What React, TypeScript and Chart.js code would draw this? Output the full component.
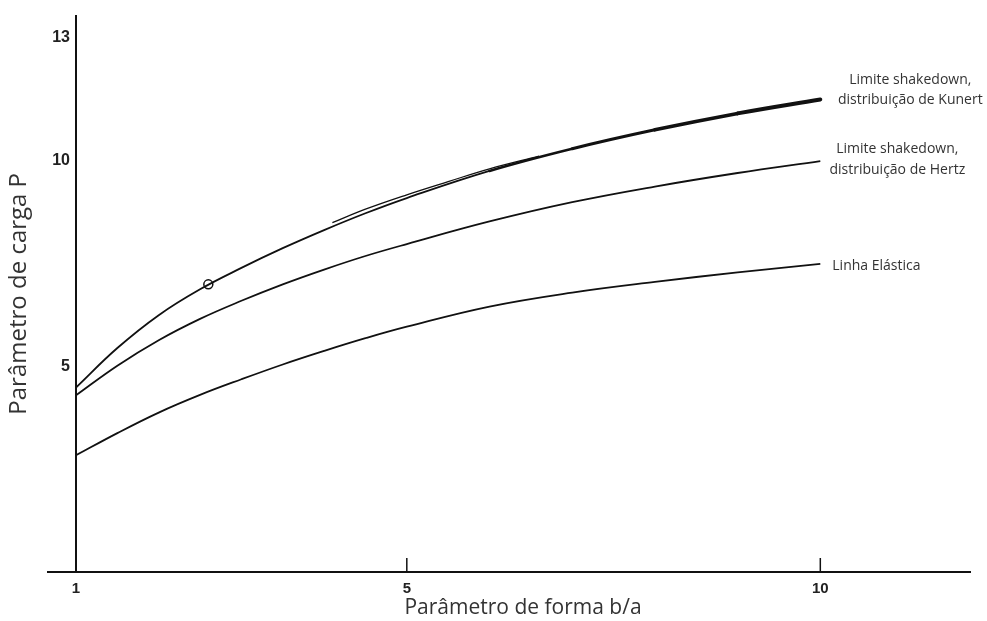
import React, { useEffect, useRef } from "react";
import { Chart, registerables } from "chart.js";

Chart.register(...registerables);

// ---- data ----
const xValues = [1, 1.5, 2, 2.5, 3, 3.5, 4, 4.5, 5, 6, 7, 8, 9, 10];
const kunert = [4.49, 5.45, 6.25, 6.88, 7.4, 7.88, 8.32, 8.73, 9.1, 9.76, 10.3, 10.76, 11.16, 11.5];
const hertz = [4.3, 5.02, 5.64, 6.16, 6.6, 7.0, 7.36, 7.69, 7.98, 8.53, 9.0, 9.38, 9.71, 10.0];
const elastic = [2.84, 3.38, 3.88, 4.31, 4.69, 5.05, 5.38, 5.69, 5.97, 6.46, 6.8, 7.06, 7.29, 7.5];

// doubled pen stroke on the Kunert curve
const kunertTraceX = [4.1, 4.5, 5, 5.5, 6, 6.6];
const kunertTraceY = [8.5, 8.83, 9.18, 9.5, 9.81, 10.12];

// open circle marker on the Kunert curve
const markerX = [2.6];
const markerY = [7.0];

const xTicks = [1, 5, 10];
const yTicks = [5, 10, 13];

const kunertLabel = ["Limite shakedown,", "distribuição de Kunert"];
const hertzLabel = ["Limite shakedown,", "distribuição de Hertz"];
const elasticLabel = ["Linha Elástica"];

const xTitle = "Parâmetro de forma b/a";
const yTitle = "Parâmetro de carga P";

const INK = "#111";
const TEXT = "#333";

const pts = (xs: number[], ys: number[]) => xs.map((x, i) => ({ x, y: ys[i] }));

const decorPlugin = {
  id: "decor",
  afterDraw(chart: any) {
    const ctx = chart.ctx;
    const xs = chart.scales.x;
    const area = chart.chartArea;
    ctx.save();
    // x-axis line extending left of the y axis
    ctx.strokeStyle = INK;
    ctx.lineWidth = 2;
    ctx.beginPath();
    ctx.moveTo(area.left - 29, area.bottom);
    ctx.lineTo(area.left, area.bottom);
    ctx.stroke();
    // small upward tick marks on the x axis
    ctx.lineWidth = 1.5;
    xTicks.slice(1).forEach((v) => {
      const px = xs.getPixelForValue(v);
      ctx.beginPath();
      ctx.moveTo(px, area.bottom);
      ctx.lineTo(px, area.bottom - 14);
      ctx.stroke();
    });
    // end-of-curve labels
    ctx.fillStyle = TEXT;
    ctx.font = "14px 'Open Sans'";
    ctx.textBaseline = "middle";
    const endOf = (i: number) => {
      const d = chart.getDatasetMeta(i).data;
      return d[d.length - 1];
    };
    const k = endOf(0);
    ctx.textAlign = "center";
    ctx.fillText(kunertLabel[0], k.x + 90, k.y - 19);
    ctx.fillText(kunertLabel[1], k.x + 90, k.y + 1);
    const h = endOf(1);
    ctx.fillText(hertzLabel[0], h.x + 77, h.y - 12);
    ctx.fillText(hertzLabel[1], h.x + 77, h.y + 9);
    const e = endOf(2);
    ctx.textAlign = "left";
    ctx.fillText(elasticLabel[0], e.x + 12, e.y + 2);
    ctx.restore();
  },
};

export default function App() {
  const ref = useRef<HTMLCanvasElement | null>(null);
  useEffect(() => {
    if (!ref.current) return;
    const lineCommon = {
      borderColor: INK,
      pointRadius: 0,
      fill: false,
      tension: 0.4,
    };
    const kunertWidth = (x: number) =>
      x >= 9 ? 4 : x >= 8 ? 3.6 : x >= 7 ? 3.1 : x >= 6 ? 2.5 : 1.8;
    const chart = new Chart(ref.current, {
      type: "line",
      data: {
        datasets: [
          {
            ...lineCommon,
            label: "Kunert",
            data: pts(xValues, kunert),
            borderWidth: 1.8,
            borderCapStyle: "round",
            segment: {
              borderWidth: (c: any) => kunertWidth(c.p0.parsed.x),
            },
          },
          { ...lineCommon, label: "Hertz", data: pts(xValues, hertz), borderWidth: 1.8 },
          { ...lineCommon, label: "Elástica", data: pts(xValues, elastic), borderWidth: 1.8 },
          { ...lineCommon, label: "trace", data: pts(kunertTraceX, kunertTraceY), borderWidth: 1.3 },
          {
            label: "marker",
            data: pts(markerX, markerY),
            showLine: false,
            pointRadius: 4.5,
            pointBackgroundColor: "#fff",
            pointBorderColor: INK,
            pointBorderWidth: 1.5,
          },
        ],
      },
      options: {
        animation: false,
        responsive: true,
        maintainAspectRatio: false,
        layout: { padding: { left: 0, top: 14, right: 17, bottom: 0 } },
        plugins: { legend: { display: false }, tooltip: { enabled: false } },
        scales: {
          x: {
            type: "linear",
            min: 1,
            max: 11.81,
            afterBuildTicks: (s: any) => {
              s.ticks = xTicks.map((v) => ({ value: v }));
            },
            afterFit: (s: any) => {
              s.height = 49;
            },
            grid: { display: false, drawTicks: false },
            border: { display: true, color: INK, width: 2 },
            ticks: {
              padding: 8,
              color: "#222",
              font: { family: "'Liberation Sans'", size: 15, weight: "bold" },
              autoSkip: false,
              maxRotation: 0,
            },
            title: {
              display: true,
              text: xTitle,
              color: TEXT,
              font: { family: "'Open Sans'", size: 21 },
              padding: { top: 2, bottom: 0 },
            },
          },
          y: {
            type: "linear",
            min: 0,
            max: 13.54,
            afterBuildTicks: (s: any) => {
              s.ticks = yTicks.map((v) => ({ value: v }));
            },
            afterFit: (s: any) => {
              s.width = 76;
            },
            grid: { display: false, drawTicks: false },
            border: { display: true, color: INK, width: 2 },
            ticks: {
              padding: 6,
              color: "#222",
              font: { family: "'Liberation Sans'", size: 16, weight: "bold" },
            },
            title: {
              display: true,
              text: yTitle,
              color: TEXT,
              font: { family: "'Open Sans'", size: 24 },
              padding: { top: 5, bottom: 0 },
            },
          },
        },
      },
      plugins: [decorPlugin],
    });
    return () => chart.destroy();
  }, []);
  return (
    <div style={{ position: "absolute", left: 0, top: 0, width: 987, height: 621, background: "#fff" }}>
      <canvas ref={ref} />
    </div>
  );
}
